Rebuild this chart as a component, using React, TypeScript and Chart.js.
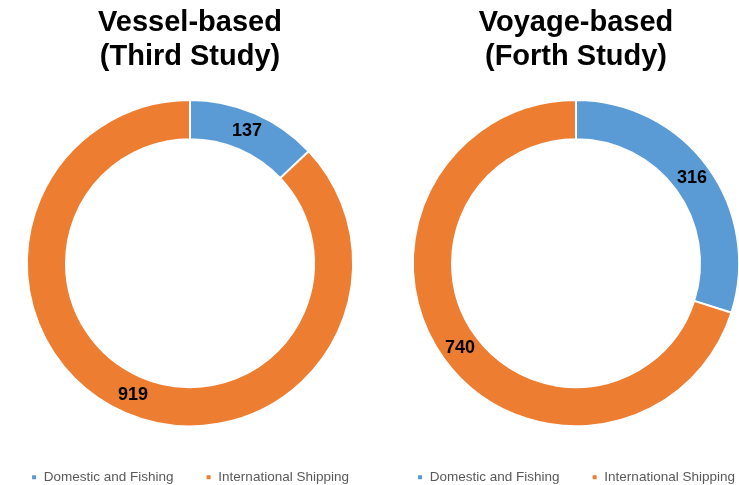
import React, { useEffect, useRef } from "react";
import { Chart, registerables } from "chart.js";

Chart.register(...registerables);

const categories = ["Domestic and Fishing", "International Shipping"];
const vesselValues = [137, 919];
const voyageValues = [316, 740];
const vesselTitle = ["Vessel-based", "(Third Study)"];
const voyageTitle = ["Voyage-based", "(Forth Study)"];
const sliceColors = ["#5B9BD5", "#ED7D31"];

const FONT = "'Liberation Sans', Arial, Helvetica, sans-serif";
const CW = 440;
const CH = 494;

const arcLabels = {
  id: "arcLabels",
  afterDatasetsDraw(chart: any) {
    const ctx = chart.ctx;
    const meta = chart.getDatasetMeta(0);
    const data = chart.data.datasets[0].data;
    ctx.save();
    ctx.font = `bold 18px ${FONT}`;
    ctx.fillStyle = "#000000";
    ctx.textAlign = "center";
    ctx.textBaseline = "middle";
    meta.data.forEach((arc: any, i: number) => {
      const p = arc.getCenterPoint();
      ctx.fillText(String(data[i]), p.x, p.y);
    });
    ctx.restore();
  },
};

function Donut({ values, title, left }: { values: number[]; title: string[]; left: number }) {
  const ref = useRef<HTMLCanvasElement | null>(null);
  useEffect(() => {
    if (!ref.current) return;
    const chart = new Chart(ref.current, {
      type: "doughnut",
      data: {
        labels: categories,
        datasets: [
          {
            data: values,
            backgroundColor: sliceColors,
            borderColor: "#ffffff",
            borderWidth: 2,
            hoverOffset: 0,
          },
        ],
      },
      options: {
        responsive: false,
        animation: false,
        cutout: "76%",
        layout: { padding: 0 },
        plugins: {
          title: {
            display: true,
            text: title,
            color: "#000000",
            font: { family: FONT, size: 29, weight: "bold", lineHeight: 1.2 },
            padding: { top: 5.1, bottom: 24.3 },
          },
          legend: {
            display: true,
            position: "bottom",
            title: {
              display: true,
              text: "",
              font: { size: 1, lineHeight: 1.2 },
              padding: { top: 0, bottom: 10 },
            },
            labels: {
              color: "#595959",
              font: { family: FONT, size: 13.5 },
              boxWidth: 6,
              boxHeight: 6,
              padding: 32,
            },
          },
          tooltip: { enabled: false },
        },
      },
      plugins: [arcLabels],
    } as any);
    return () => chart.destroy();
  }, []);
  return (
    <canvas
      ref={ref}
      width={CW}
      height={CH}
      style={{ position: "absolute", left, top: 0, width: CW, height: CH, display: "block" }}
    />
  );
}

export default function App() {
  return (
    <div
      style={{
        position: "fixed",
        left: 0,
        top: 0,
        width: 739,
        height: 485,
        overflow: "hidden",
        background: "#ffffff",
      }}
    >
      <Donut values={vesselValues} title={vesselTitle} left={-30} />
      <Donut values={voyageValues} title={voyageTitle} left={356} />
    </div>
  );
}
